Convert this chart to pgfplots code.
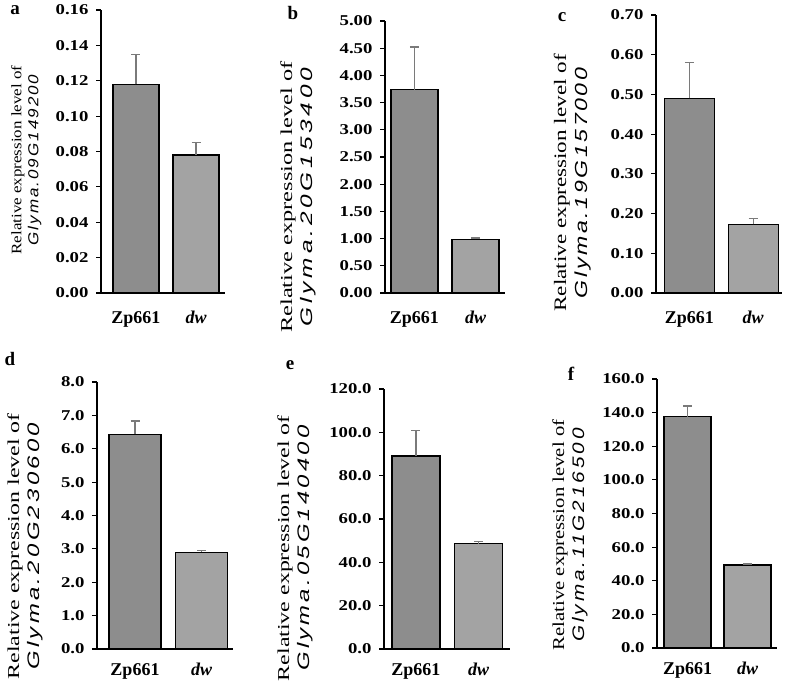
\documentclass[border=0pt]{standalone}
\usepackage{fontspec}
\setmainfont{Liberation Serif}
\setsansfont{Liberation Sans}
\usepackage{graphicx}
\usepackage{pgfplots}
\pgfplotsset{compat=1.18}
\definecolor{barA}{HTML}{8D8D8D}
\definecolor{barB}{HTML}{A3A3A3}
\definecolor{errc}{HTML}{7A7A7A}
% size, baselineskip, hscale, letterspace, gene
\newcommand{\ylab}[5]{\scalebox{#3}[1]{\fontsize{#1}{#2}\selectfont\begin{tabular}{@{}c@{}}Relative expression level of\\ {\sffamily\itshape\addfontfeature{LetterSpace=#4}#5}\end{tabular}}}
\pgfplotsset{
  panel/.style={
    scale only axis, anchor=south west,
    axis x line*=bottom, axis y line*=left,
    axis line style={line width=1.4pt,-},
    ymin=0, xtick={0,1},
    xticklabels={Zp661,\textit{dw}},
    x tick label style={font=\fontsize{18}{20}\selectfont\bfseries, anchor=base},
    xtick style={draw=none},
    ytick style={line width=1.2pt, black},
    tick align=outside, major tick length=5pt,
    y tick label style={font=\fontsize{15}{18}\selectfont\bfseries, xshift=-4pt},
    yticklabel={\scalebox{1.25}[1]{\pgfmathprintnumber{\tick}}},
    /pgf/number format/assume math mode=true,
    /pgf/number format/.cd, fixed, fixed zerofill,
    /pgfplots/.cd,
    ylabel style={rotate=0, anchor=center},
    clip=false,
  },
  bars/.style={ybar, bar shift=0pt, bar width=#1, draw=black, line width=1.3pt,
    error bars/.cd, y dir=plus, y explicit,
    error bar style={errc, line width=1.3pt},
    error mark options={errc, rotate=90, mark size=4.5pt, line width=1.3pt},
    /pgfplots/.cd},
}
\begin{document}
\begin{tikzpicture}
\useasboundingbox (0,0) rectangle (787pt,-683pt);
\tikzset{plab/.style={font=\fontsize{19}{20}\selectfont\bfseries}}
\node[plab] at (15pt,-10pt) {a};
\node[plab] at (293pt,-13pt) {b};
\node[plab] at (562pt,-17pt) {c};
\node[plab] at (10pt,-359pt) {d};
\node[plab] at (290pt,-365pt) {e};
\node[plab] at (571pt,-374pt) {f};

% a
\begin{axis}[panel, at={(101pt,-293pt)}, width=124pt, height=283pt,
  x tick label style={yshift=-25pt},
  xmin=-0.58, xmax=1.48, ymax=0.16, ytick={0,0.02,...,0.161},
  /pgf/number format/precision=2,
  ylabel={\ylab{14.5}{17}{1.17}{12}{Glyma.09G149200}},
  ylabel style={at={(axis description cs:-0.601,0.47)}}]
\addplot[bars=46pt, fill=barA] coordinates {(0,0.118) +- (0,0.017)};
\addplot[bars=46pt, fill=barB] coordinates {(1,0.078) +- (0,0.007)};
\end{axis}

% b
\begin{axis}[panel, at={(385pt,-293pt)}, width=120pt, height=272pt,
  x tick label style={yshift=-25pt},
  xmin=-0.48, xmax=1.48, ymax=5, ytick={0,0.5,...,5.01},
  /pgf/number format/precision=2,
  ylabel={\ylab{16.7}{20}{1.46}{15.7}{Glyma.20G153400}},
  ylabel style={at={(axis description cs:-0.725,0.353)}}]
\addplot[bars=47pt, fill=barA] coordinates {(0,3.74) +- (0,0.78)};
\addplot[bars=47pt, fill=barB] coordinates {(1,0.99) +- (0,0.02)};
\end{axis}

% c
\begin{axis}[panel, at={(656pt,-293pt)}, width=126pt, height=278pt,
  x tick label style={yshift=-25pt},
  xmin=-0.52, xmax=1.45, ymax=0.7, ytick={0,0.1,...,0.71},
  /pgf/number format/precision=2,
  ylabel={\ylab{17.5}{21}{1.32}{11.3}{Glyma.19G157000}},
  ylabel style={at={(axis description cs:-0.663,0.396)}}]
\addplot[bars=50pt, fill=barA] coordinates {(0,0.490) +- (0,0.091)};
\addplot[bars=50pt, fill=barB] coordinates {(1,0.173) +- (0,0.015)};
\end{axis}

% d
\begin{axis}[panel, at={(97pt,-649pt)}, width=136pt, height=267pt,
  x tick label style={yshift=-21pt},
  xmin=-0.57, xmax=1.47, ymax=8, ytick={0,1,...,8},
  /pgf/number format/precision=1,
  ylabel={\ylab{16.7}{20}{1.43}{13.8}{Glyma.20G230600}},
  ylabel style={at={(axis description cs:-0.529,0.385)}}]
\addplot[bars=52pt, fill=barA] coordinates {(0,6.43) +- (0,0.40)};
\addplot[bars=52pt, fill=barB] coordinates {(1,2.90) +- (0,0.06)};
\end{axis}

% e
\begin{axis}[panel, at={(384pt,-649pt)}, width=126pt, height=260pt,
  x tick label style={yshift=-21pt},
  xmin=-0.51, xmax=1.50, ymax=120, ytick={0,20,...,120},
  /pgf/number format/precision=1,
  ylabel={\ylab{16.7}{20}{1.43}{13.3}{Glyma.05G140400}},
  ylabel style={at={(axis description cs:-0.706,0.388)}}]
\addplot[bars=48pt, fill=barA] coordinates {(0,89.1) +- (0,11.9)};
\addplot[bars=48pt, fill=barB] coordinates {(1,48.6) +- (0,1.1)};
\end{axis}

% f
\begin{axis}[panel, at={(657pt,-648pt)}, width=120pt, height=269pt,
  x tick label style={yshift=-21pt},
  xmin=-0.51, xmax=1.49, ymax=160, ytick={0,20,...,160},
  /pgf/number format/precision=1,
  ylabel={\ylab{16.7}{20}{1.24}{14.3}{Glyma.11G216500}},
  ylabel style={at={(axis description cs:-0.725,0.42)}}]
\addplot[bars=47pt, fill=barA] coordinates {(0,137.6) +- (0,6.4)};
\addplot[bars=47pt, fill=barB] coordinates {(1,49.4) +- (0,0.6)};
\end{axis}
\end{tikzpicture}
\end{document}
